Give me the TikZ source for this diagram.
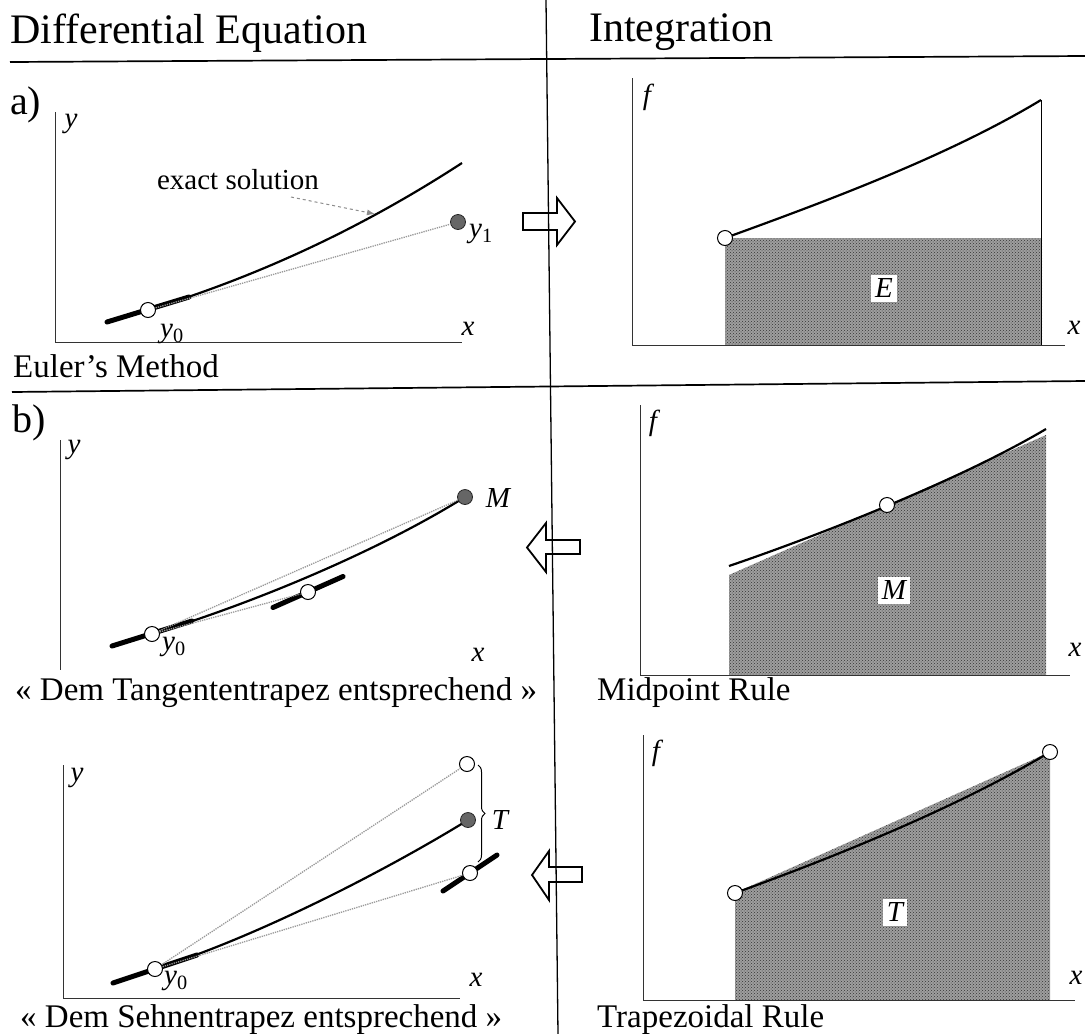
\documentclass[tikz,border=0pt]{standalone}
\usepackage{fontspec}
\setmainfont{Liberation Serif}[ItalicFont={Liberation Serif Italic},BoldFont={Liberation Serif Bold}]
\usetikzlibrary{arrows.meta,decorations.pathreplacing,patterns}
\newcommand\hfnt{\fontsize{42}{50}\selectfont}
\newcommand\cfnt{\fontsize{33}{40}\selectfont}
\newcommand\lfnt{\fontsize{29}{35}\selectfont}
\newcommand\efnt{\fontsize{29}{35}\selectfont}
\begin{document}
\begin{tikzpicture}[x=1pt,y=-1pt,
  axis/.style={line width=1pt,black!80},
  rulel/.style={line width=1.7pt},
  curvel/.style={line width=2.2pt},
  tang/.style={line width=5pt,line cap=round},
  dotl/.style={line width=1.3pt,black!40,densely dotted},
  opendot/.style={circle,draw,line width=1pt,fill=white,minimum size=15pt,inner sep=0pt},
  fulldot/.style={circle,draw=black!85,line width=0.8pt,fill=black!60,minimum size=15pt,inner sep=0pt},
  shadefill/.style={fill=black!38},
  shadepat/.style={pattern=crosshatch dots,pattern color=black!80},
  lbox/.style={fill=white,inner sep=4pt,font=\lfnt\itshape},
  axl/.style={inner sep=0pt,font=\lfnt\itshape},
  sub/.style={inner sep=0pt,font=\efnt},
  blockarrow/.style={draw,line width=1.8pt,fill=white,line join=miter}
]
\useasboundingbox (0,0) rectangle (1085,1034);
\fill[white] (0,0) rectangle (1085,1034);

% ---------- headers and rules ----------
\node[anchor=base west,inner sep=0pt] (hdrL) at (10,43) {\hfnt Differential Equation};
\node[anchor=base west,inner sep=0pt] (hdrR) at (589,41) {\hfnt Integration};
\draw[rulel] (10,62) -- (1085,56);
\draw[rulel] (12,392) -- (1085,381);

% ---------- block arrows (under divider) ----------
\draw[blockarrow] (523,213) -- (557,213) -- (557,198) -- (575,221.5) -- (557,245) -- (557,230) -- (523,230) -- cycle;
\draw[blockarrow] (580,540) -- (546,540) -- (546,523) -- (527,547.5) -- (546,572) -- (546,554) -- (580,554) -- cycle;
\draw[blockarrow] (582,867) -- (549,867) -- (549,851) -- (532,875) -- (549,900) -- (549,882) -- (582,882) -- cycle;
\draw[line width=1.3pt] (546,0) -- (558,1034);

% ================= panel a, left =================
\node[anchor=base west,inner sep=0pt] (lblA) at (10,114) {\fontsize{40}{48}\selectfont a)};
\draw[axis] (55,112) -- (55,342) -- (462,342);
\node[axl] (yA) at (71,124) {y};
\node[axl] (xA) at (468,329) {x};
\coordinate (a0) at (148,310);
\coordinate (a1) at (462,163);
\draw[curvel] (a0) .. controls (258,276.5) and (362,228) .. (a1);
\draw[tang] (107,322) -- (189,297);
\node[opendot] (y0a) at (a0) {};
\node[fulldot] (y1a) at (458,222) {};
\draw[dotl] (y0a) -- (y1a);
\node[sub] (ly0a) at (172,334) {\textit{y}\textsubscript{0}};
\node[sub] (ly1a) at (481,234) {\textit{y}\textsubscript{1}};
\node[inner sep=0pt] (exs) at (238,180) {\efnt exact solution};
\coordinate (exsS) at (291,197);
\coordinate (exsT) at (375,214);
\draw[black!45,dashed,line width=1pt,-{Latex[length=8pt,width=6pt]}] (exsS) -- (exsT);
\node[anchor=base west,inner sep=0pt] (capA) at (13,377) {\cfnt Euler’s Method};

% ================= panel a, right =================
\fill[shadefill] (725,238) rectangle (1042,345);
\fill[shadepat] (725,238) rectangle (1042,345);
\draw[axis] (632,78) -- (632,345) -- (1065,345);
\draw[line width=0.8pt] (1041,100) -- (1041,345);
\draw[curvel] (725,238) .. controls (830,200) and (950,155) .. (1041,100);
\node[opendot] (ea) at (725,238) {};
\node[lbox] (E) at (884,288) {E};
\node[axl] (fA) at (647,97) {f};
\node[axl] (xA2) at (1074,328) {x};

% ================= panel b, left =================
\node[anchor=base west,inner sep=0pt] (lblB) at (12,432) {\fontsize{40}{48}\selectfont b)};
\draw[axis] (60,440) -- (60,670);
\node[axl] (yB) at (74,450) {y};
\node[axl] (xB) at (478,655) {x};
\coordinate (b0) at (152,634);
\coordinate (bM) at (465,497);
\draw[curvel] (b0) .. controls (257,602) and (380,550) .. (bM);
\draw[tang] (112,646) -- (192,621);
\draw[tang] (273,607.5) -- (343,576.5);
\node[opendot] (y0b) at (b0) {};
\node[opendot] (midb) at (308,592) {};
\node[fulldot] (Mb) at (bM) {};
\draw[dotl] (y0b) -- (Mb);
\draw[dotl] (y0b) -- (midb);
\node[axl] (lMb) at (498,498) {M};
\node[sub] (ly0b) at (174,647) {\textit{y}\textsubscript{0}};
\node[anchor=base west,inner sep=0pt] (capB) at (15,700) {\cfnt « Dem Tangententrapez entsprechend »};

% ================= panel b, right =================
\fill[shadefill] (729,575) -- (1046,435) -- (1046,675) -- (729,675) -- cycle;
\fill[shadepat] (729,575) -- (1046,435) -- (1046,675) -- (729,675) -- cycle;
\draw[axis] (640,405) -- (640,675) -- (1070,675);
\draw[curvel] (729,566) .. controls (820,535) and (960,480) .. (1046,429);
\node[opendot] (mr) at (887,505) {};
\node[lbox] (Mlab) at (894,590) {M};
\node[axl] (fB) at (653,423) {f};
\node[axl] (xB2) at (1075,650) {x};
\node[anchor=base west,inner sep=0pt] (capB2) at (597,700) {\cfnt Midpoint Rule};

% ================= panel c, left =================
\draw[axis] (63,765) -- (63,998) -- (460,998);
\node[axl] (yC) at (77,778) {y};
\node[axl] (xC) at (476,980) {x};
\coordinate (c0) at (155,969);
\coordinate (cE) at (468,820);
\draw[curvel] (c0) .. controls (260,936) and (390,868) .. (cE);
\draw[tang] (113,983) -- (197,955);
\draw[tang] (443,891) -- (497,855);
\node[opendot] (y0c) at (c0) {};
\node[fulldot] (exc) at (cE) {};
\node[opendot] (topc) at (467,764) {};
\node[opendot] (botc) at (470,873) {};
\draw[dotl] (y0c) -- (topc);
\draw[dotl] (y0c) -- (botc);
\draw[decorate,decoration={brace,amplitude=7pt},line width=1pt] (478,765) -- (478,862);
\node[axl] (lTc) at (500,820) {T};
\node[sub] (ly0c) at (176,981) {\textit{y}\textsubscript{0}};
\node[anchor=base west,inner sep=0pt] (capC) at (20,1027) {\cfnt « Dem Sehnentrapez entsprechend »};

% ================= panel c, right =================
\fill[shadefill] (735,893) -- (1050,752) -- (1050,1000) -- (735,1000) -- cycle;
\fill[shadepat] (735,893) -- (1050,752) -- (1050,1000) -- (735,1000) -- cycle;
\draw[axis] (643,735) -- (643,1000) -- (1075,1000);
\draw[curvel] (735,893) .. controls (840,855) and (960,806) .. (1050,752);
\node[opendot] (tl) at (735,893) {};
\node[opendot] (tr) at (1050,752) {};
\node[lbox] (Tlab) at (895,912) {T};
\node[axl] (fC) at (656,753) {f};
\node[axl] (xC2) at (1076,978) {x};
\node[anchor=base west,inner sep=0pt] (capC2) at (597,1027) {\cfnt Trapezoidal Rule};
\end{tikzpicture}
\end{document}
